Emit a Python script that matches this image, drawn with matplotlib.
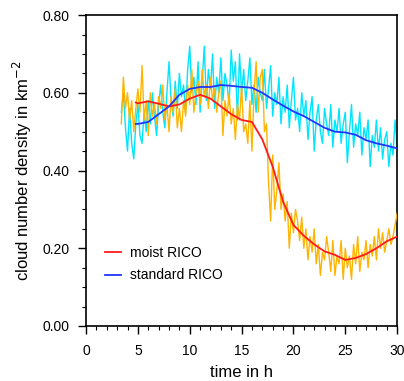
import numpy as np
import matplotlib
matplotlib.use("Agg")
import matplotlib.pyplot as plt
from matplotlib.ticker import MultipleLocator

plt.rcParams['font.family'] = ['Liberation Sans', 'DejaVu Sans']

# raw time axis (h)
t_raw = np.round(np.arange(3.4, 30.001, 0.2), 1)

standard_raw = [
    0.55, 0.60, 0.51, 0.45, 0.56, 0.47, 0.43, 0.52, 0.57, 0.49,
    0.47, 0.55, 0.50, 0.58, 0.52, 0.60, 0.54, 0.49, 0.57, 0.62,
    0.55, 0.51, 0.60, 0.68, 0.58, 0.54, 0.63, 0.56, 0.65, 0.59,
    0.62, 0.55, 0.66, 0.72, 0.60, 0.64, 0.57, 0.68, 0.55, 0.63,
    0.72, 0.58, 0.66, 0.61, 0.70, 0.56, 0.64, 0.60, 0.69, 0.58,
    0.65, 0.62, 0.57, 0.71, 0.63, 0.68, 0.53, 0.70, 0.60, 0.66,
    0.58, 0.63, 0.69, 0.57, 0.62, 0.55, 0.64, 0.60, 0.58, 0.66,
    0.56, 0.61, 0.67, 0.54, 0.60, 0.57, 0.64, 0.52, 0.59, 0.55,
    0.62, 0.51, 0.58, 0.64, 0.53, 0.56, 0.50, 0.60, 0.54, 0.58,
    0.48, 0.55, 0.59, 0.45, 0.53, 0.57, 0.50, 0.47, 0.56, 0.52,
    0.49, 0.57, 0.46, 0.53, 0.50, 0.56, 0.47, 0.52, 0.55, 0.42,
    0.50, 0.57, 0.46, 0.52, 0.49, 0.55, 0.44, 0.51, 0.48, 0.53,
    0.41, 0.49, 0.46, 0.53, 0.45, 0.51, 0.43, 0.48, 0.50, 0.41,
    0.47, 0.44, 0.53, 0.46,
]

moist_raw = [
    0.52, 0.64, 0.56, 0.60, 0.53, 0.58, 0.50, 0.56, 0.61, 0.55,
    0.67, 0.53, 0.58, 0.49, 0.60, 0.54, 0.57, 0.52, 0.59, 0.56,
    0.62, 0.53, 0.57, 0.50, 0.59, 0.55, 0.61, 0.51, 0.56, 0.50,
    0.58, 0.54, 0.62, 0.57, 0.66, 0.55, 0.60, 0.63, 0.57, 0.66,
    0.59, 0.62, 0.56, 0.64, 0.58, 0.61, 0.55, 0.60, 0.63, 0.49,
    0.58, 0.54, 0.60, 0.52, 0.56, 0.48, 0.57, 0.53, 0.62, 0.50,
    0.52, 0.47, 0.58, 0.45, 0.60, 0.68, 0.55, 0.64, 0.66, 0.50,
    0.52, 0.37, 0.27, 0.44, 0.30, 0.35, 0.42, 0.30, 0.34, 0.27,
    0.32, 0.20, 0.29, 0.24, 0.30, 0.27, 0.22, 0.28, 0.20, 0.25,
    0.17, 0.23, 0.19, 0.25, 0.16, 0.21, 0.13, 0.19, 0.17, 0.23,
    0.19, 0.14, 0.22, 0.13, 0.18, 0.16, 0.22, 0.12, 0.20, 0.15,
    0.18, 0.12, 0.21, 0.16, 0.23, 0.14, 0.19, 0.17, 0.22, 0.15,
    0.21, 0.18, 0.23, 0.17, 0.25, 0.20, 0.24, 0.19, 0.22, 0.25,
    0.21, 0.23, 0.26, 0.29,
]

# smoothed curves
t_moist_smooth = [4.8, 5, 6, 7, 8, 9, 10, 11, 12, 13, 14, 15, 16, 17, 18, 19, 20,
                  21, 22, 23, 24, 25, 26, 27, 28, 29, 30]
moist_smooth = [0.575, 0.573, 0.578, 0.572, 0.565, 0.57, 0.585, 0.595, 0.585, 0.565,
                0.545, 0.53, 0.525, 0.48, 0.41, 0.32, 0.26, 0.232, 0.21, 0.192,
                0.183, 0.17, 0.175, 0.185, 0.2, 0.218, 0.23]

t_std_smooth = [4.8, 5, 6, 7, 8, 9, 10, 11, 12, 13, 14, 15, 16, 17, 18, 19, 20,
                21, 22, 23, 24, 25, 26, 27, 28, 29, 30]
standard_smooth = [0.52, 0.52, 0.525, 0.545, 0.565, 0.595, 0.61, 0.615, 0.615, 0.62,
                   0.618, 0.615, 0.613, 0.6, 0.583, 0.567, 0.552, 0.54, 0.525, 0.51,
                   0.5, 0.498, 0.492, 0.478, 0.47, 0.464, 0.457]

labels = ["moist RICO", "standard RICO"]

fig = plt.figure(figsize=(4.04, 3.81), dpi=100)
ax = fig.add_axes([0.213, 0.1444, 0.770, 0.816])

ax.plot(t_raw, standard_raw, color='#00E5FF', lw=1.0, zorder=2)
ax.plot(t_raw, moist_raw, color='#FFB400', lw=1.0, zorder=3)
ax.plot(t_moist_smooth, moist_smooth, color='#FF1A1A', lw=1.3, zorder=4, label=labels[0])
ax.plot(t_std_smooth, standard_smooth, color='#2035FF', lw=1.3, zorder=5, label=labels[1])

ax.set_xlim(0, 30)
ax.set_ylim(0, 0.8)
ax.xaxis.set_major_locator(MultipleLocator(5))
ax.xaxis.set_minor_locator(MultipleLocator(1))
ax.yaxis.set_major_locator(MultipleLocator(0.2))
ax.yaxis.set_minor_locator(MultipleLocator(0.05))
ax.yaxis.set_major_formatter(matplotlib.ticker.FormatStrFormatter('%.2f'))
ax.tick_params(which='major', direction='out', length=6, width=1.0, labelsize=10)
ax.tick_params(axis='x', which='major', pad=7)
ax.tick_params(axis='y', which='major', pad=6)
ax.tick_params(which='minor', direction='out', length=3, width=0.8)
for s in ax.spines.values():
    s.set_linewidth(1.2)

ax.set_xlabel("time in h", fontsize=12, labelpad=5)
ax.set_ylabel("cloud number density in km$^{-2}$", fontsize=12, labelpad=6)

leg = ax.legend(loc='lower left', bbox_to_anchor=(0.02, 0.10), frameon=False,
                fontsize=10, handlelength=1.2, handletextpad=0.6, labelspacing=0.6)

fig.savefig("out.png", dpi=100)
